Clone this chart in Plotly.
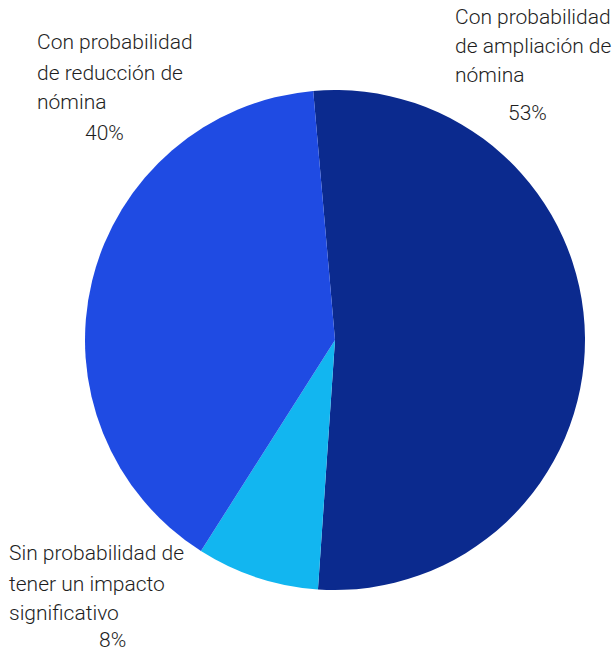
import plotly.graph_objects as go

# Slice data (clockwise from the top)
categories = ["Con probabilidad de ampliación de nómina",
              "Sin probabilidad de tener un impacto significativo",
              "Con probabilidad de reducción de nómina"]
shares = [53, 8, 40]
slice_colors = ["#0b2a8e", "#12b6f0", "#1f4be3"]

# Label text blocks: wrapped lines and the percentage shown under them
label_lines = [
    ["Con probabilidad", "de ampliación de", "nómina"],
    ["Sin probabilidad de", "tener un impacto", "significativo"],
    ["Con probabilidad", "de reducción de", "nómina"],
]
pct_labels = ["53%", "8%", "40%"]

W, H = 616, 653
fig = go.Figure()
fig.add_trace(go.Pie(
    labels=categories,
    values=shares,
    marker=dict(colors=slice_colors, line=dict(width=0)),
    sort=False,
    direction="clockwise",
    rotation=-5,
    textinfo="none",
    hoverinfo="label+percent",
    showlegend=False,
    domain=dict(x=[85 / W, 585 / W], y=[1 - 590 / H, 1 - 90 / H]),
))

# Placement of each text block (pixels from top-left)
block_pos = [
    dict(x=453, y=[17, 46, 75], px=527, py=113),
    dict(x=7, y=[553, 584, 613], px=112, py=640),
    dict(x=35, y=[42, 73, 102], px=104, py=133),
]
font = dict(family="Roboto, Liberation Sans, Arial, sans-serif", size=21,
            color="#1e1e1e", weight=300)
for lines, pct, pos in zip(label_lines, pct_labels, block_pos):
    for line, yy in zip(lines, pos["y"]):
        fig.add_annotation(text=line, x=pos["x"] / W, y=1 - yy / H,
                           xref="paper", yref="paper", xanchor="left",
                           yanchor="middle", showarrow=False, font=font)
    fig.add_annotation(text=pct, x=pos["px"] / W, y=1 - pos["py"] / H,
                       xref="paper", yref="paper", xanchor="center",
                       yanchor="middle", showarrow=False, font=font)

fig.update_layout(
    width=W, height=H,
    margin=dict(l=0, r=0, t=0, b=0),
    paper_bgcolor="white",
    plot_bgcolor="white",
)
fig.write_html("out.html")
